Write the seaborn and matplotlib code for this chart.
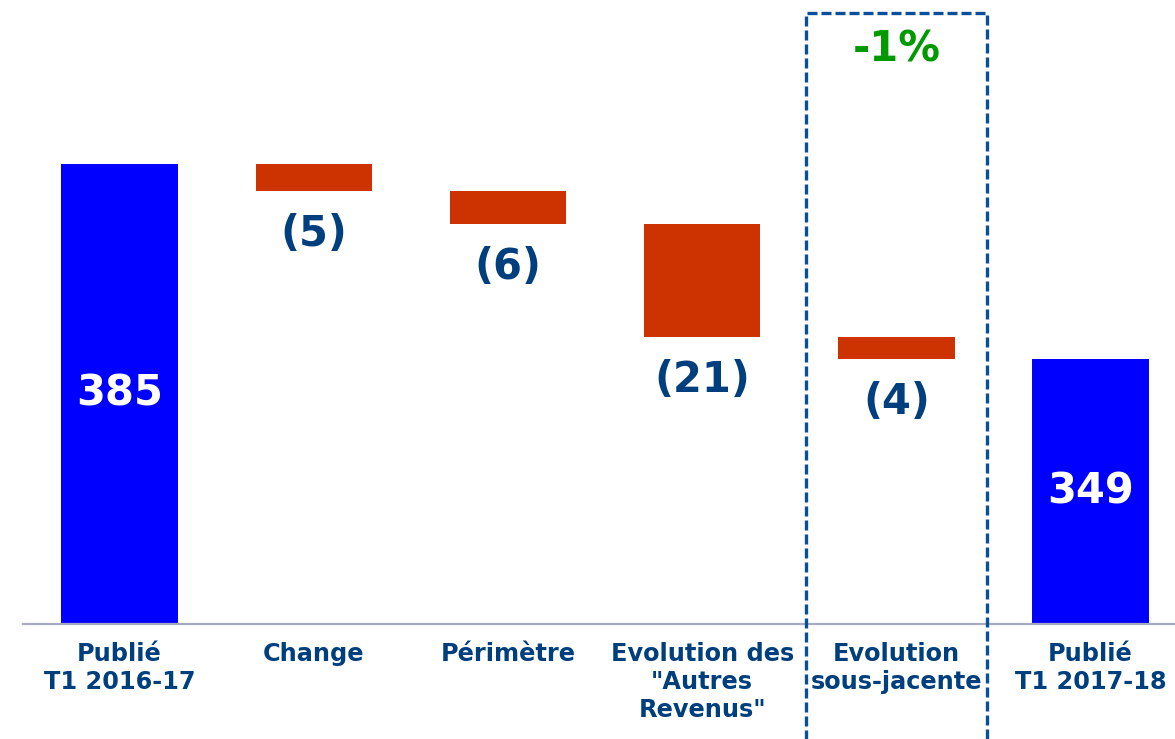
import matplotlib
matplotlib.use("Agg")
import matplotlib.pyplot as plt
import matplotlib.transforms as mtransforms
import numpy as np
import pandas as pd
import seaborn as sns

# ---- data ----
categories = ["Publié\nT1 2016-17", "Change", "Périmètre",
              "Evolution des\n\"Autres\nRevenus\"", "Evolution\nsous-jacente",
              "Publié\nT1 2017-18"]
values = [385, -5, -6, -21, -4, 349]
is_total = [True, False, False, False, False, True]
value_labels = ["385", "(5)", "(6)", "(21)", "(4)", "349"]
highlight_text = "-1%"

# ---- waterfall geometry from values ----
bottoms, tops = [], []
running = 0
for v, tot in zip(values, is_total):
    if tot:
        bottoms.append(0)
        tops.append(v)
        running = v
    else:
        tops.append(running)
        bottoms.append(running + v)
        running = running + v

BLUE = "#0000FF"
RED = "#CC3300"
NAVY = "#003F7D"
GREEN = "#009A00"
BOXBLUE = "#0A4F9B"
YMIN = 300

sns.set_theme(style="white")
plt.rcParams["font.family"] = ["DejaVu Sans"]

df = pd.DataFrame({"cat": categories, "top": tops, "bottom": bottoms})
colors = [BLUE if t else RED for t in is_total]

SPACING = 194.2
LEFT = 22.5
fig = plt.figure(figsize=(11.75, 7.39), dpi=100)
ax = fig.add_axes([LEFT / 1175, 115 / 739, (1175 - LEFT) / 1175, 624 / 739])

# full bars up to the top of each step
sns.barplot(data=df, x="cat", y="top", hue="cat", order=categories,
            hue_order=categories, palette=colors, legend=False,
            width=0.6, ax=ax, saturation=1, linewidth=0, edgecolor="none")
# mask the part below each floating step with white
sns.barplot(data=df, x="cat", y="bottom", order=categories, color="white",
            width=0.62, ax=ax, saturation=1, linewidth=0, edgecolor="none")

ax.set_ylim(YMIN, 415.3)
ax.set_xlim(-0.5, -0.5 + (1175 - LEFT) / SPACING)

# spines / ticks
for s in ["left", "right", "top"]:
    ax.spines[s].set_visible(False)
ax.spines["bottom"].set_color("#A8ABC0")
ax.spines["bottom"].set_linewidth(1.6)
ax.spines["bottom"].set_zorder(5)
ax.set_yticks([])
ax.set_xlabel("")
ax.set_ylabel("")
ax.set_xticks(range(len(categories)))
ax.set_xticklabels(categories, fontsize=17.3, fontweight="bold", color=NAVY,
                   linespacing=1.22, va="top")
ax.tick_params(axis="x", which="major", length=0, pad=13)
ax.set_xticks(np.arange(-0.5, len(categories) - 0.5, 1.0), minor=True)
ax.tick_params(axis="x", which="minor", length=6, width=1.4,
               color="#A8ABC0", direction="out")
ax.grid(False)

# value labels
px_per_unit = (624 / 739 * 7.39 * 100) / (415.3 - YMIN)
offset_units = 43 / px_per_unit
for i, (b, t, tot, lab) in enumerate(zip(bottoms, tops, is_total, value_labels)):
    if tot:
        y = (max(b, YMIN) + t) / 2
        ax.text(i, y, lab, ha="center", va="center", fontsize=30,
                fontweight="bold", color="white")
    else:
        ax.text(i, b - offset_units, lab, ha="center", va="center",
                fontsize=30, fontweight="bold", color=NAVY)

# dashed highlight box around "Evolution sous-jacente"
hi = 4
trans = mtransforms.blended_transform_factory(ax.transData, ax.transAxes)
xl, xr = hi - 0.466, hi + 0.466
ytop = (624 - 13) / 624
ax.plot([xl, xl, xr, xr], [-0.3, ytop, ytop, -0.3], transform=trans,
        color=BOXBLUE, lw=2.4, dashes=(3.0, 1.2), clip_on=False,
        solid_joinstyle="miter", dash_capstyle="butt", zorder=6)
ax.text(hi, (624 - 49) / 624, highlight_text, transform=trans, ha="center",
        va="center", fontsize=30, fontweight="bold", color=GREEN)

fig.savefig("out.png", dpi=100)
